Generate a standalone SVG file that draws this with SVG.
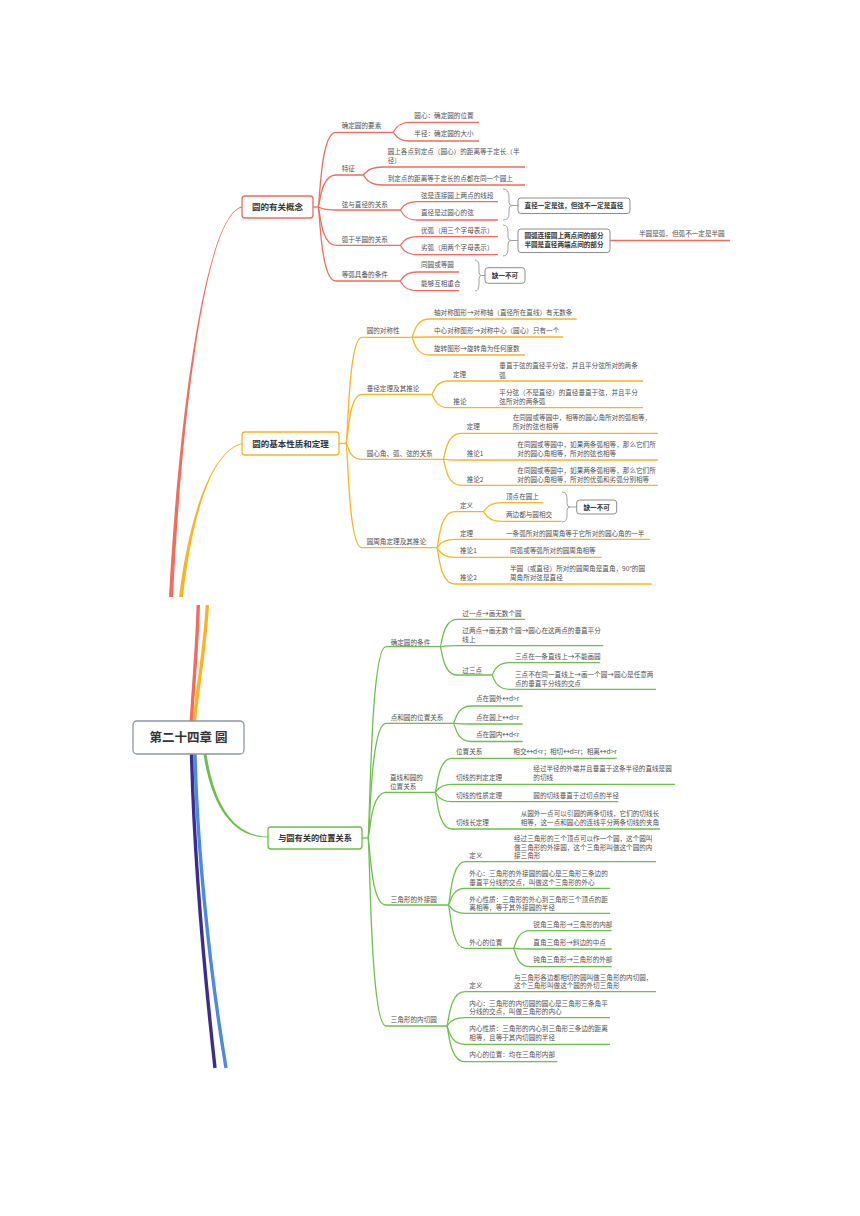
<svg xmlns="http://www.w3.org/2000/svg" width="860" height="1216" viewBox="0 0 860 1216">
<style>
.t{font-family:"Noto Sans CJK SC","Noto Sans",sans-serif;font-size:6.6px;fill:#505050}
.s{font-family:"Noto Sans CJK SC","Noto Sans",sans-serif;font-size:6.6px;font-weight:bold;fill:#333;text-anchor:middle}
.m{font-family:"Noto Sans CJK SC","Noto Sans",sans-serif;font-weight:bold;fill:#333;text-anchor:middle}
.r{fill:none;stroke:#f26b5b;stroke-width:1.3}
.o{fill:none;stroke:#fbb323;stroke-width:1.3}
.g{fill:none;stroke:#6cc04a;stroke-width:1.3}
.br{fill:none;stroke:#a0a0a0;stroke-width:1}
.sb{fill:#fff;stroke:#8c8c8c;stroke-width:1}
</style>
<rect width="860" height="1216" fill="#fff"/>
<g id="connectors">
<!-- main trunks -->
<path d="M242,206.6 C205,214.4 178.5,420 169,597 L173,597 C181.5,420 205,215.6 242,207.4 Z" fill="#f26b5b"/>
<path d="M242,443.1 C210,451.6 188.5,520 179,597 L183,597 C191.5,520 210,452.4 242,443.9 Z" fill="#fbb323"/>
<path d="M198.3,605 C197,650 193,690 191.3,722" fill="none" stroke="#f26b5b" stroke-width="3.4"/>
<path d="M207.3,605 C205,650 197,690 194.3,722" fill="none" stroke="#fbb323" stroke-width="3.4"/>
<path d="M195,754 C197,840 208,960 226,1068" fill="none" stroke="#4b8ae0" stroke-width="3.4"/>
<path d="M191.5,754 C194,850 203,960 215,1068" fill="none" stroke="#3a2d8f" stroke-width="3.4"/>
<path d="M203.5,754 C210.5,800.5 229.5,838 268,837.5 L268,836.5 C230.5,836 213.5,799.5 206.5,754 Z" fill="#6cc04a"/>
<!-- red branch -->
<path class="r" stroke-width="2" d="M313,207 L318,207"/>
<path class="r" d="M318,207 C320,207 320,132.3 336,132.3 L393,132.3"/>
<path class="r" d="M318,207 C320,207 320,175 336,175 L363,175"/>
<path class="r" d="M318,207 C320,207 320,210 336,210 L400,210"/>
<path class="r" d="M318,207 C320,207 320,245.3 336,245.3 L400,245.3"/>
<path class="r" d="M318,207 C320,207 320,281 336,281 L400,281"/>
<path class="r" d="M393,132.3 C395,132.3 395,122.3 410,122.3 L479,122.3"/>
<path class="r" d="M393,132.3 C395,132.3 395,141 410,141 L479,141"/>
<path class="r" d="M363,175 C365,175 365,167 383,167 L525,167"/>
<path class="r" d="M363,175 C365,175 365,185 383,185 L525,185"/>
<path class="r" d="M400,210 C402,210 402,201.7 417,201.7 L498,201.7"/>
<path class="r" d="M400,210 C402,210 402,220 417,220 L498,220"/>
<path class="r" d="M400,245.3 C402,245.3 402,236.7 417,236.7 L498,236.7"/>
<path class="r" d="M400,245.3 C402,245.3 402,254.7 417,254.7 L498,254.7"/>
<path class="r" d="M400,281 C402,281 402,272 417,272 L459,272"/>
<path class="r" d="M400,281 C402,281 402,290.7 417,290.7 L459,290.7"/>
<path class="r" d="M610,240.5 L730,240.5"/>
<!-- braces -->
<path class="br" d="M503,189 Q509,189 509,197 L509,202 Q509,205.5 512,205.5 Q509,205.5 509,209 L509,214 Q509,220 503,220 M512,205.5 L518,205.5"/>
<path class="br" d="M503,225 Q508,225 508,232 L508,237 Q508,240.5 511,240.5 Q508,240.5 508,244 L508,249 Q508,256 503,256 M511,240.5 L518,240.5"/>
<path class="br" d="M475,260 Q479,260 479,267 L479,272 Q479,275.5 481.5,275.5 Q479,275.5 479,279 L479,284 Q479,291 475,291 M481.5,275.5 L485,275.5"/>
<path class="br" d="M562,492 Q567,492 567,499 L567,503.5 Q567,507 570,507 Q567,507 567,510.5 L567,515 Q567,522 562,522 M570,507 L576.7,507"/>
<!-- orange branch -->
<path class="o" stroke-width="2" d="M339,443.5 L346,443.5"/>
<path class="o" d="M346,443.5 C348,443.5 348,337.3 362,337.3 L411.7,337.3"/>
<path class="o" d="M346,443.5 C348,443.5 348,394.3 362,394.3 L431.7,394.3"/>
<path class="o" d="M346,443.5 C348,443.5 348,459.3 362,459.3 L443,459.3"/>
<path class="o" d="M346,443.5 C348,443.5 348,547.7 362,547.7 L436.7,547.7"/>
<path class="o" d="M411.7,337.3 C413.7,337.3 413.7,319 429.7,319 L576.7,319"/>
<path class="o" d="M411.7,337.3 C413.7,337.3 413.7,337 429.7,337 L563,337"/>
<path class="o" d="M411.7,337.3 C413.7,337.3 413.7,355 429.7,355 L525,355"/>
<path class="o" d="M431.7,394.3 C433.7,394.3 433.7,381 448.7,381 L643,381"/>
<path class="o" d="M431.7,394.3 C433.7,394.3 433.7,407.7 448.7,407.7 L643,407.7"/>
<path class="o" d="M443,459.3 C445,459.3 445,433.3 461,433.3 L658,433.3"/>
<path class="o" d="M443,459.3 C445,459.3 445,460 461,460 L658,460"/>
<path class="o" d="M443,459.3 C445,459.3 445,485.3 461,485.3 L658,485.3"/>
<path class="o" d="M436.7,547.7 C438.7,547.7 438.7,511.7 454.7,511.7 L483.3,511.7"/>
<path class="o" d="M436.7,547.7 C438.7,547.7 438.7,539.3 454.7,539.3 L650,539.3"/>
<path class="o" d="M436.7,547.7 C438.7,547.7 438.7,557.3 454.7,557.3 L601.7,557.3"/>
<path class="o" d="M436.7,547.7 C438.7,547.7 438.7,584 454.7,584 L651.7,584"/>
<path class="o" d="M483.3,511.7 C485.3,511.7 485.3,502.7 501.3,502.7 L543.3,502.7"/>
<path class="o" d="M483.3,511.7 C485.3,511.7 485.3,521.3 501.3,521.3 L561.7,521.3"/>
<!-- green branch -->
<path class="g" stroke-width="2" d="M362,838 L368,838"/>
<path class="g" d="M368,838 C370,838 370,646.7 386,646.7 L440,646.7"/>
<path class="g" d="M368,838 C370,838 370,723.3 386,723.3 L453.3,723.3"/>
<path class="g" d="M368,838 C370,838 370,792.3 386,792.3 L435,792.3"/>
<path class="g" d="M368,838 C370,838 370,905 386,905 L448.3,905"/>
<path class="g" d="M368,838 C370,838 370,1026 386,1026 L446.7,1026"/>
<path class="g" d="M440,646.7 C442,646.7 442,619.3 457,619.3 L525,619.3"/>
<path class="g" d="M440,646.7 C442,646.7 442,645.7 457,645.7 L603.3,645.7"/>
<path class="g" d="M440,646.7 C442,646.7 442,675 457,675 L491.7,675"/>
<path class="g" d="M491.7,675 C493.7,675 493.7,662.7 509.7,662.7 L600,662.7"/>
<path class="g" d="M491.7,675 C493.7,675 493.7,689.3 509.7,689.3 L656,689.3"/>
<path class="g" d="M453.3,723.3 C455.3,723.3 455.3,706 471.3,706 L522.7,706"/>
<path class="g" d="M453.3,723.3 C455.3,723.3 455.3,724 471.3,724 L522.7,724"/>
<path class="g" d="M453.3,723.3 C455.3,723.3 455.3,741.5 471.3,741.5 L522.7,741.5"/>
<path class="g" d="M435,792.3 C437,792.3 437,758.3 452,758.3 L616.7,758.3"/>
<path class="g" d="M435,792.3 C437,792.3 437,784.3 452,784.3 L675,784.3"/>
<path class="g" d="M435,792.3 C437,792.3 437,801.7 452,801.7 L618.3,801.7"/>
<path class="g" d="M435,792.3 C437,792.3 437,829 452,829 L660,829"/>
<path class="g" d="M448.3,905 C450.3,905 450.3,861.7 465.3,861.7 L656,861.7"/>
<path class="g" d="M448.3,905 C450.3,905 450.3,888.3 465.3,888.3 L610,888.3"/>
<path class="g" d="M448.3,905 C450.3,905 450.3,913.3 465.3,913.3 L610,913.3"/>
<path class="g" d="M448.3,905 C450.3,905 450.3,948.3 465.3,948.3 L513.3,948.3"/>
<path class="g" d="M513.3,948.3 C515.3,948.3 515.3,930.7 530.3,930.7 L611.7,930.7"/>
<path class="g" d="M513.3,948.3 C515.3,948.3 515.3,949 530.3,949 L611.7,949"/>
<path class="g" d="M513.3,948.3 C515.3,948.3 515.3,966.7 530.3,966.7 L611.7,966.7"/>
<path class="g" d="M446.7,1026 C448.7,1026 448.7,991.7 464.7,991.7 L656,991.7"/>
<path class="g" d="M446.7,1026 C448.7,1026 448.7,1017.7 464.7,1017.7 L610,1017.7"/>
<path class="g" d="M446.7,1026 C448.7,1026 448.7,1044.3 464.7,1044.3 L610,1044.3"/>
<path class="g" d="M446.7,1026 C448.7,1026 448.7,1061.7 464.7,1061.7 L557.3,1061.7"/>
</g>

<g id="root">
<rect x="133" y="721" width="111" height="33" rx="4" fill="#fff" stroke="#8b97a8" stroke-width="1.3"/>
<text class="m" x="188.5" y="742.3" font-size="12.5">第二十四章 圆</text>
</g>

<g id="n-concept">
<rect x="242" y="196" width="71" height="22" rx="3" fill="#fff" stroke="#f26b5b" stroke-width="1.3"/>
<text class="m" x="277.5" y="210.2" font-size="8.5">圆的有关概念</text>
</g>
<g id="n-c1"><text class="t" x="341.7" y="127.5">确定圆的要素</text></g>
<g id="n-c1a"><text class="t" x="414.3" y="118.4">圆心：确定圆的位置</text></g>
<g id="n-c1b"><text class="t" x="414.3" y="136.1">半径：确定圆的大小</text></g>
<g id="n-c2"><text class="t" x="341.7" y="171.4">特征</text></g>
<g id="n-c2a"><text class="t" x="387.7" y="154.1">圆上各点到定点（圆心）的距离等于定长（半</text><text class="t" x="387.7" y="163.1">径）</text></g>
<g id="n-c2b"><text class="t" x="387.7" y="180.7">到定点的距离等于定长的点都在同一个圆上</text></g>
<g id="n-c3"><text class="t" x="341.7" y="206.7">弦与直径的关系</text></g>
<g id="n-c3a"><text class="t" x="421" y="197.7">弦是连接圆上两点的线段</text></g>
<g id="n-c3b"><text class="t" x="421" y="215.1">直径是过圆心的弦</text></g>
<g id="n-c3s"><rect class="sb" x="518" y="198" width="112" height="15.5" rx="3"/><text class="s" x="574" y="208.3">直径一定是弦，但弦不一定是直径</text></g>
<g id="n-c4"><text class="t" x="341.7" y="242.4">弧于半圆的关系</text></g>
<g id="n-c4a"><text class="t" x="421" y="232.7">优弧（用三个字母表示）</text></g>
<g id="n-c4b"><text class="t" x="421" y="250.4">劣弧（用两个字母表示）</text></g>
<g id="n-c4s"><rect class="sb" x="518" y="229" width="92" height="23.5" rx="3"/><text class="s" x="564" y="238.4">圆弧连接圆上两点间的部分</text><text class="s" x="564" y="246.6">半圆是直径两端点间的部分</text></g>
<g id="n-c4t"><text class="t" x="639" y="236.4">半圆是弧，但弧不一定是半圆</text></g>
<g id="n-c5"><text class="t" x="341.7" y="276.7">等弧具备的条件</text></g>
<g id="n-c5a"><text class="t" x="421" y="267.4">同圆或等圆</text></g>
<g id="n-c5b"><text class="t" x="421" y="285.7">能够互相重合</text></g>
<g id="n-c5s"><rect class="sb" x="485" y="267.7" width="40" height="15.6" rx="3"/><text class="s" x="505" y="278">缺一不可</text></g>

<g id="n-basic">
<rect x="242" y="432" width="97" height="23" rx="3" fill="#fff" stroke="#fbb323" stroke-width="1.3"/>
<text class="m" x="290.5" y="446.6" font-size="8.5">圆的基本性质和定理</text>
</g>
<g id="n-b1"><text class="t" x="366.7" y="333.1">圆的对称性</text></g>
<g id="n-b1a"><text class="t" x="434" y="315.1">轴对称图形→对称轴（直径所在直线）有无数条</text></g>
<g id="n-b1b"><text class="t" x="434" y="333.1">中心对称图形→对称中心（圆心）只有一个</text></g>
<g id="n-b1c"><text class="t" x="434" y="351.4">旋转图形→旋转角为任何度数</text></g>
<g id="n-b2"><text class="t" x="366.7" y="390.7">垂径定理及其推论</text></g>
<g id="n-b2a"><text class="t" x="453" y="377.4">定理</text><text class="t" x="499.3" y="368.4">垂直于弦的直径平分弦，并且平分弦所对的两条</text><text class="t" x="499.3" y="378.1">弧</text></g>
<g id="n-b2b"><text class="t" x="453.3" y="404.1">推论</text><text class="t" x="499.3" y="394.7">平分弦（不是直径）的直径垂直于弦，并且平分</text><text class="t" x="499.3" y="403.7">弦所对的两条弧</text></g>
<g id="n-b3"><text class="t" x="366.7" y="456.4">圆心角、弧、弦的关系</text></g>
<g id="n-b3a"><text class="t" x="466.7" y="429.1">定理</text><text class="t" x="512.7" y="420.1">在同圆或等圆中，相等的圆心角所对的弧相等，</text><text class="t" x="512.7" y="429.1">所对的弦也相等</text></g>
<g id="n-b3b"><text class="t" x="466.7" y="456.4">推论1</text><text class="t" x="517.3" y="446.7">在同圆或等圆中，如果两条弧相等，那么它们所</text><text class="t" x="517.3" y="456.4">对的圆心角相等，所对的弦也相等</text></g>
<g id="n-b3c"><text class="t" x="466.7" y="481.7">推论2</text><text class="t" x="517.3" y="473.1">在同圆或等圆中，如果两条弧相等，那么它们所</text><text class="t" x="517.3" y="481.7">对的圆心角相等，所对的优弧和劣弧分别相等</text></g>
<g id="n-b4"><text class="t" x="366.7" y="544.1">圆周角定理及其推论</text></g>
<g id="n-b4a"><text class="t" x="460" y="508.1">定义</text></g>
<g id="n-b4a1"><text class="t" x="506" y="499.1">顶点在圆上</text></g>
<g id="n-b4a2"><text class="t" x="506" y="517.4">两边都与圆相交</text></g>
<g id="n-b4as"><rect class="sb" x="576.7" y="500" width="40" height="14" rx="3"/><text class="s" x="596.7" y="509.5">缺一不可</text></g>
<g id="n-b4b"><text class="t" x="460" y="535.7">定理</text><text class="t" x="506" y="535.7">一条弧所对的圆周角等于它所对的圆心角的一半</text></g>
<g id="n-b4c"><text class="t" x="460" y="553.1">推论1</text><text class="t" x="510" y="553.1">同弧或等弧所对的圆周角相等</text></g>
<g id="n-b4d"><text class="t" x="460" y="579.7">推论2</text><text class="t" x="510" y="570.7">半圆（或直径）所对的圆周角是直角，90°的圆</text><text class="t" x="510" y="579.7">周角所对弦是直径</text></g>

<g id="n-pos">
<rect x="268" y="827" width="94" height="22" rx="3" fill="#fff" stroke="#6cc04a" stroke-width="1.3"/>
<text class="m" x="315" y="841" font-size="8.2">与圆有关的位置关系</text>
</g>
<g id="n-p1"><text class="t" x="390.7" y="644.7">确定圆的条件</text></g>
<g id="n-p1a"><text class="t" x="462.3" y="615.7">过一点→画无数个圆</text></g>
<g id="n-p1b"><text class="t" x="462.3" y="633.1">过两点→画无数个圆→圆心在这两点的垂直平分</text><text class="t" x="462.3" y="641.7">线上</text></g>
<g id="n-p1c"><text class="t" x="462.3" y="673.1">过三点</text></g>
<g id="n-p1c1"><text class="t" x="515" y="659.1">三点在一条直线上→不能画圆</text></g>
<g id="n-p1c2"><text class="t" x="515" y="677.4">三点不在同一直线上→画一个圆→圆心是任意两</text><text class="t" x="515" y="685.7">点的垂直平分线的交点</text></g>
<g id="n-p2"><text class="t" x="390.7" y="719.7">点和圆的位置关系</text></g>
<g id="n-p2a"><text class="t" x="476" y="701.4">点在圆外↔d&gt;r</text></g>
<g id="n-p2b"><text class="t" x="476" y="719.7">点在圆上↔d=r</text></g>
<g id="n-p2c"><text class="t" x="476" y="737.4">点在圆内↔d&lt;r</text></g>
<g id="n-p3"><text class="t" x="390" y="780.1">直线和圆的</text><text class="t" x="390" y="789.1">位置关系</text></g>
<g id="n-p3a"><text class="t" x="456" y="754.1">位置关系</text><text class="t" x="513.3" y="754.1">相交↔d&lt;r；相切↔d=r；相离↔d&gt;r</text></g>
<g id="n-p3b"><text class="t" x="456" y="780.1">切线的判定定理</text><text class="t" x="533.3" y="770.7">经过半径的外端并且垂直于这条半径的直线是圆</text><text class="t" x="533.3" y="780.1">的切线</text></g>
<g id="n-p3c"><text class="t" x="456" y="798.1">切线的性质定理</text><text class="t" x="533.3" y="798.1">圆的切线垂直于过切点的半径</text></g>
<g id="n-p3d"><text class="t" x="456" y="824.7">切线长定理</text><text class="t" x="520.7" y="816.4">从圆外一点可以引圆的两条切线，它们的切线长</text><text class="t" x="520.7" y="824.7">相等，这一点和圆心的连线平分两条切线的夹角</text></g>
<g id="n-p4"><text class="t" x="390.7" y="901.7">三角形的外接圆</text></g>
<g id="n-p4a"><text class="t" x="469.3" y="858.4">定义</text><text class="t" x="514" y="840.7">经过三角形的三个顶点可以作一个圆，这个圆叫</text><text class="t" x="514" y="849.7">做三角形的外接圆，这个三角形叫做这个圆的内</text><text class="t" x="514" y="858.4">接三角形</text></g>
<g id="n-p4b"><text class="t" x="469.3" y="875.7">外心：三角形的外接圆的圆心是三角形三条边的</text><text class="t" x="469.3" y="884.7">垂直平分线的交点，叫做这个三角形的外心</text></g>
<g id="n-p4c"><text class="t" x="469.3" y="901.7">外心性质：三角形的外心到三角形三个顶点的距</text><text class="t" x="469.3" y="909.7">离相等，等于其外接圆的半径</text></g>
<g id="n-p4d"><text class="t" x="469.3" y="945.1">外心的位置</text></g>
<g id="n-p4d1"><text class="t" x="533.3" y="927.4">锐角三角形→三角形的内部</text></g>
<g id="n-p4d2"><text class="t" x="533.3" y="945.1">直角三角形→斜边的中点</text></g>
<g id="n-p4d3"><text class="t" x="533.3" y="962.4">钝角三角形→三角形的外部</text></g>
<g id="n-p5"><text class="t" x="390.7" y="1022.4">三角形的内切圆</text></g>
<g id="n-p5a"><text class="t" x="469.3" y="988.1">定义</text><text class="t" x="514" y="980.1">与三角形各边都相切的圆叫做三角形的内切圆，</text><text class="t" x="514" y="988.1">这个三角形叫做这个圆的外切三角形</text></g>
<g id="n-p5b"><text class="t" x="469.3" y="1005.7">内心：三角形的内切圆的圆心是三角形三条角平</text><text class="t" x="469.3" y="1014.1">分线的交点，叫做三角形的内心</text></g>
<g id="n-p5c"><text class="t" x="469.3" y="1030.7">内心性质：三角形的内心到三角形三条边的距离</text><text class="t" x="469.3" y="1040.1">相等，且等于其内切圆的半径</text></g>
<g id="n-p5d"><text class="t" x="469.3" y="1057.4">内心的位置：均在三角形内部</text></g>
</svg>
